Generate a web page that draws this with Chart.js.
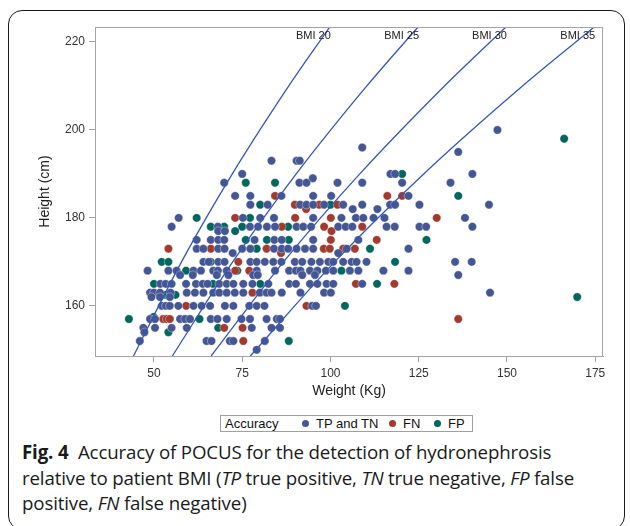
<!DOCTYPE html>
<html>
<head>
<meta charset="utf-8">
<script src="https://cdn.jsdelivr.net/npm/chart.js@4/dist/chart.umd.min.js"></script>
<style>
  html, body { margin: 0; padding: 0; background: #fff; }
  body { width: 630px; height: 526px; position: relative; overflow: hidden; font-family: "Liberation Sans", Arial, sans-serif; }
  #frame { position: absolute; left: 8px; top: 10px; width: 617px; height: 520px; border: 1.4px solid #1a1a1a; border-radius: 14px; box-sizing: border-box; }
  #wrap { position: absolute; left: 0; top: 0; width: 630px; height: 403px; }
  #legend { position: absolute; left: 220px; top: 415px; width: 253px; height: 17px; border: 1px solid #a0a0a0; box-sizing: border-box; font-size: 13px; color: #111; white-space: nowrap; }
  #legend span { position: absolute; top: 0px; line-height: 15px; }
  #legend i { position: absolute; top: 4px; width: 7px; height: 7px; border-radius: 50%; }
  #caption { position: absolute; left: 22px; top: 439px; width: 610px; white-space: nowrap; font-family: "Open Sans", "Noto Sans", sans-serif; font-size: 18.7px; line-height: 25.5px; color: #1a1a1a; letter-spacing: -0.15px; }
  #caption b { font-weight: 700; }
  #caption i { letter-spacing: -0.3px; }
</style>
</head>
<body>
<div id="frame"></div>
<div id="wrap"><canvas id="c" width="630" height="403"></canvas></div>
<div id="legend"></div>
<div id="caption"><b>Fig. 4</b>&nbsp; Accuracy of POCUS for the detection of hydronephrosis<br>relative to patient BMI (<i>TP</i> true positive, <i>TN</i> true negative, <i>FP</i> false<br>positive, <i>FN</i> false negative)</div>
<script>
// ---- data (weight kg, height cm) ----
const seriesNames = ['TP and TN', 'FN', 'FP'];
const seriesColors = ['#445694', '#A23A2E', '#01665E'];
const legendTitle = 'Accuracy';
const xTicks = [50, 75, 100, 125, 150, 175];
const yTicks = [160, 180, 200, 220];

const tpTn = [[147.3,200],[109,196],[136.2,195],[83.3,193],[90.4,193],[91.3,193],
[75,190],[95,189],[117,190],[118.3,190],[140.2,190],
[69.9,188],[91.2,188],[93.2,188],[102,188],[109,188],[120.3,188],[134,188],
[73,185],[77.3,185],[86.1,185],[95.1,185],[100.2,185],[122.1,185],
[77.3,183],[82.2,183],[91.4,183],[93.2,183],[95.1,183],[98.2,183],[103.6,183],[109,183],[116.9,183],[118.3,183],[125.2,183],[144.9,183],
[106.3,182],[113.3,182],
[57,180],[75.2,180],[80.1,180],[84,180],[95.1,180],[103.1,180],[107.2,180],[109.3,180],[112.2,180],[115.3,180],[138.1,180],
[55,178],[68.1,178],[77.2,178],[79.5,178],[82,178],[84.3,178],[90.4,178],[92.3,178],[94.5,178],[102.2,178],[104.3,178],[106.2,178],[115.9,178],[118.2,178],[125.2,178],[127.1,178],[140.2,178],
[68.2,177],[70.1,177],
[62.1,175],[66.1,175],[68.2,175],[69.9,175],[78.5,175],[84.1,175],[86.2,175],[95.1,175],[107.9,175],
[62.1,173],[64,173],[68.2,173],[70,173],[72.3,172],[75,173],[77.3,173],[84,173],[86.2,173],[88,173],[90.4,173],[92.8,173],[95.1,173],[102.2,172],[104.6,173],[122.1,173],
[64,170],[65.5,170],[68.2,170],[70,170],[77.3,170],[79.1,170],[81.4,170],[83.8,170],[86.1,170],[89.9,170],[92,170],[94.6,170],[97,170],[99.4,170],[100.8,170],[103.6,170],[106,170],[107.4,170],[110.2,170],[135.3,170],[140,170],
[48.2,168],[54.1,168],[56.4,168],[61.2,168],[63.3,168],[66.8,168],[68.1,168],[70.6,168],[79.1,168],[84.3,168],[88.3,168],[90.2,168],[91.5,168],[94.2,168],[96.3,168],[98.7,168],[100.8,168],[105.5,168],[107.9,168],[115,168],[122.1,168],
[57.4,167],[61,167],[67.8,167],[71.1,167],[78.1,167],[79.4,167],[92,167],[95.6,167],[136.2,167],
[51.8,165],[53.3,165],[55,165],[59.1,165],[61.9,165],[63.8,165],[65.2,165],[68.5,165],[70.6,165],[72.5,165],[75.3,165],[77.9,165],[82.4,165],[88.3,165],[90.2,165],[94.2,165],[96.3,165],[98.9,165],[100.8,165],[109,165],
[48.9,163],[50,163],[51.7,163],[54.7,163],[59.3,163],[61.6,163],[64,163],[66.8,163],[68.5,163],[70.6,163],[72.9,163],[75.3,163],[80,163],[81.9,163],[83.3,163],[86.2,163],[91.5,163],[98.2,163],[100.1,163],[145.2,163],
[49.3,162],[51.7,162],[54.5,162],
[52.2,160],[53.4,160],[54.5,160],[56.9,160],[61.2,160],[63.5,160],[65.9,160],[70.1,160],[72.5,160],[77,160],[79.1,160],[81.3,160],[94.8,160],[95.9,160],
[48.9,157],[50.3,157],[57.4,157],[58.8,157],[60.2,157],[66.1,157],[68,157],[70.6,157],[74.8,157],[77.2,157],[81.9,157],[84.8,157],[85.7,157],
[47,155],[50.3,155],[55,155],[59.3,155],[77.7,155],[83.3,155],[85.7,155],[47.3,154],
[46,152],[64.9,152],[66.3,152],[71.5,152],[72.5,152],[81.4,152],
[79.1,150]];

const fn = [[84.3,185],[116.1,185],[120.3,185],[89.9,183],[96.8,183],[102,183],[93.1,182],
[73,180],[90,180],[100.1,180],[130.1,180],[86.2,178],[98.2,178],[109,178],[100.3,177],
[113.1,175],[100.1,175],[54.1,173],[66.1,173],[81.9,173],[98.1,173],[99.8,173],[103.6,173],[106.9,173],[86,172],
[73.9,170],[73,168],[77,168],[107.2,165],[118.1,165],[77.9,163],[59.1,160],[93.2,160],
[52.6,157],[53.6,157],[54.5,157],[136.2,157],[69.9,155],[75.1,155],[75.3,152]];

const fp = [[166.2,198],[120.3,190],[76,188],[84.3,188],[136.2,185],[80.1,183],[100,183],
[62.1,180],[77.2,180],[66.1,178],[69.9,178],[75,178],[88,178],[73,177],
[76,175],[82,175],[88.2,175],[127.2,175],[79.1,173],[111.2,173],
[52.2,170],[54.1,170],[66.1,170],[118.3,170],[73.6,168],[59.1,168],[103.1,168],
[50,165],[66.7,165],[80.1,165],[113.2,165],[53.1,162.5],[56.1,162.5],[169.9,162],[104.1,160],
[42.9,157],[49.9,157.5],[62.9,157],[54.1,154],[68.2,155],[88.2,152]];

// BMI reference curves (weight at heights 148.6 / 170 / 190 / 210 / 223.4)
const bmiLabels = ['BMI 20', 'BMI 25', 'BMI 30', 'BMI 35'];
const curveHeights = [148.6, 170, 190, 210, 223.4];
const bmi20W = [44.2, 57.8, 72.2, 88.2, 99.8];
const bmi25W = [55.2, 72.3, 90.3, 110.3, 124.8];
const bmi30W = [66.2, 86.7, 108.3, 132.3, 149.7];
const bmi35W = [77.3, 101.2, 126.4, 154.4, 174.7];
const bmiCurves = [bmi20W, bmi25W, bmi30W, bmi35W];

// ---- build chart ----
const toPts = arr => arr.map(p => ({x: p[0], y: p[1]}));
const scatterSets = [tpTn, fn, fp].map((arr, i) => ({
  type: 'scatter', label: seriesNames[i], data: toPts(arr),
  backgroundColor: seriesColors[i], borderColor: 'rgba(255,255,255,0.6)', borderWidth: 0.6,
  pointRadius: 4.2, order: 1
}));
const lineSets = bmiCurves.map((ws, i) => ({
  type: 'line', label: bmiLabels[i], data: ws.map((w, j) => ({x: w, y: curveHeights[j]})),
  borderColor: '#3656B8', borderWidth: 1.3, pointRadius: 0, fill: false,
  cubicInterpolationMode: 'monotone', order: 0
}));

const frameAndLabels = {
  id: 'frameAndLabels',
  afterDatasetsDraw(chart) {
    const {ctx, chartArea: a, scales: {x, y}} = chart;
    ctx.save();
    ctx.strokeStyle = '#a3a3a3';
    ctx.lineWidth = 1;
    ctx.strokeRect(a.left + 0.5, a.top + 0.5, a.right - a.left - 1, a.bottom - a.top);
    ctx.font = '11px "Liberation Sans", Arial, sans-serif';
    ctx.fillStyle = '#222';
    ctx.textAlign = 'right';
    ctx.textBaseline = 'middle';
    bmiCurves.forEach((ws, i) => {
      const px = x.getPixelForValue(ws[ws.length - 1]);
      ctx.fillText(bmiLabels[i], px + 1, y.getPixelForValue(221.3));
    });
    ctx.restore();
  }
};

new Chart(document.getElementById('c'), {
  data: { datasets: [...lineSets, ...scatterSets] },
  options: {
    responsive: false, animation: false, devicePixelRatio: 1,
    layout: { padding: { top: 27, right: 27, left: 0, bottom: 0 } },
    plugins: { legend: { display: false }, tooltip: { enabled: false } },
    scales: {
      x: {
        type: 'linear', min: 33.3, max: 177.2,
        afterFit: s => { s.height = 47; },
        afterBuildTicks: s => { s.ticks = xTicks.map(v => ({value: v})); },
        grid: { drawOnChartArea: false, color: '#a3a3a3', tickLength: 6, tickColor: '#a3a3a3' },
        border: { color: '#a3a3a3' },
        ticks: { color: '#333', font: { size: 12, family: '"Liberation Sans", Arial, sans-serif' }, padding: 4, maxRotation: 0 },
        title: { display: true, text: 'Weight (Kg)', color: '#222', font: { size: 14, family: '"Liberation Sans", Arial, sans-serif' }, padding: { top: 0, bottom: 3.5 } }
      },
      y: {
        type: 'linear', min: 148.6, max: 223.4,
        afterFit: s => { s.width = 95; },
        afterBuildTicks: s => { s.ticks = yTicks.map(v => ({value: v})); },
        grid: { drawOnChartArea: false, color: '#a3a3a3', tickLength: 6, tickColor: '#a3a3a3' },
        border: { color: '#a3a3a3' },
        ticks: { color: '#333', font: { size: 12, family: '"Liberation Sans", Arial, sans-serif' }, padding: 4 },
        title: { display: true, text: 'Height (cm)', color: '#222', font: { size: 14, family: '"Liberation Sans", Arial, sans-serif' }, padding: { top: 37, bottom: 0 } }
      }
    }
  },
  plugins: [frameAndLabels]
});

// ---- legend (HTML) ----
const lg = document.getElementById('legend');
const dotX = [85, 172, 217];
const txtX = [95, 182, 227];
let html = '<span style="left:4px">' + legendTitle + '</span>';
seriesNames.forEach((n, i) => {
  html += '<i style="left:' + (dotX[i] - 4) + 'px;background:' + seriesColors[i] + '"></i>';
  html += '<span style="left:' + txtX[i] + 'px">' + n + '</span>';
});
lg.innerHTML = html;
</script>
</body>
</html>
